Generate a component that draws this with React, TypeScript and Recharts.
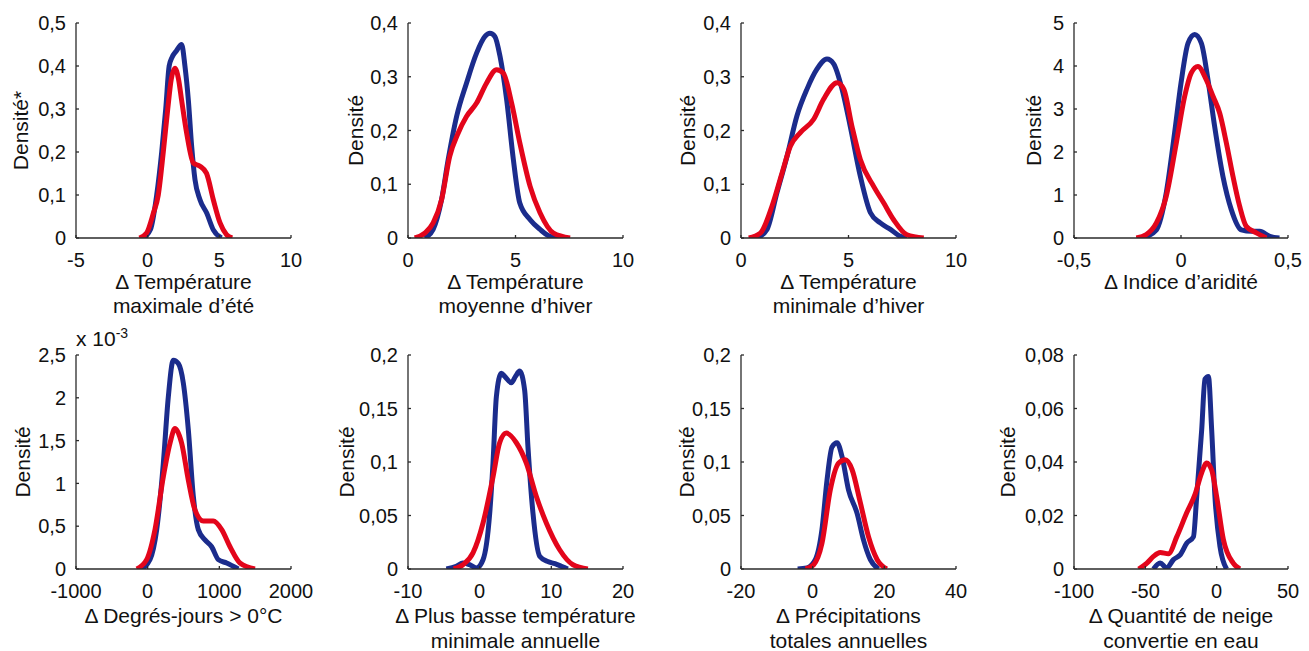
import React from 'react';
import { LineChart, Line, XAxis, YAxis, Label } from 'recharts';

const BLUE = '#1b2c8c';
const RED = '#e3051b';
const AXIS = '#2a2a2a';
const TXT = '#111111';
const FONT = '"Liberation Sans", Arial, Helvetica, sans-serif';

// ---------- Panel 1 : Δ Température maximale d'été ----------
const p1BlueX = [-0.3, 0.2, 0.63, 0.98, 1.26, 1.5, 1.7, 2.0, 2.37, 2.6, 2.84, 3.07, 3.3, 3.65, 4.12, 4.58, 5.15];
const p1BlueY = [0, 0.02, 0.1, 0.2, 0.3, 0.4, 0.42, 0.435, 0.45, 0.4, 0.32, 0.213, 0.136, 0.089, 0.058, 0.019, 0];
const p1RedX = [-0.58, -0.07, 0.4, 0.74, 1.09, 1.4, 1.65, 1.9, 2.15, 2.37, 2.72, 3.19, 3.65, 4.1, 4.58, 5.05, 5.5, 5.9];
const p1RedY = [0, 0.012, 0.058, 0.1, 0.2, 0.3, 0.37, 0.395, 0.37, 0.32, 0.244, 0.174, 0.167, 0.151, 0.089, 0.035, 0.008, 0];
const p1XTicks = [-5, 0, 5, 10];
const p1YTicks = [0, 0.1, 0.2, 0.3, 0.4, 0.5];

// ---------- Panel 2 : Δ Température moyenne d'hiver ----------
const p2BlueX = [0.78, 1.17, 1.56, 1.87, 2.26, 2.72, 3.19, 3.58, 3.81, 4.04, 4.28, 4.59, 4.9, 5.2, 5.68, 6.14, 6.6, 7.08];
const p2BlueY = [0, 0.016, 0.071, 0.146, 0.226, 0.288, 0.344, 0.375, 0.381, 0.375, 0.338, 0.257, 0.146, 0.065, 0.034, 0.016, 0.003, 0];
const p2RedX = [0.31, 0.78, 1.17, 1.56, 1.94, 2.33, 2.72, 3.19, 3.65, 4.12, 4.43, 4.82, 5.2, 5.68, 6.14, 6.77, 7.54];
const p2RedY = [0, 0.009, 0.028, 0.071, 0.152, 0.195, 0.226, 0.251, 0.288, 0.313, 0.307, 0.251, 0.177, 0.096, 0.047, 0.009, 0];
const p2XTicks = [0, 5, 10];
const p2YTicks = [0, 0.1, 0.2, 0.3, 0.4];

// ---------- Panel 3 : Δ Température minimale d'hiver ----------
const p3BlueX = [0.74, 1.21, 1.67, 2.14, 2.6, 3.07, 3.53, 4.0, 4.31, 4.7, 5.08, 5.55, 6.02, 6.48, 6.95, 7.41, 7.72];
const p3BlueY = [0, 0.016, 0.084, 0.152, 0.227, 0.277, 0.314, 0.333, 0.324, 0.277, 0.208, 0.115, 0.047, 0.028, 0.016, 0.003, 0];
const p3RedX = [0.36, 0.9, 1.44, 1.91, 2.3, 2.76, 3.38, 3.84, 4.47, 4.78, 5.16, 5.55, 6.17, 6.64, 7.1, 7.72, 8.5];
const p3RedY = [0, 0.009, 0.059, 0.121, 0.171, 0.196, 0.221, 0.258, 0.289, 0.277, 0.208, 0.146, 0.096, 0.065, 0.034, 0.006, 0];
const p3XTicks = [0, 5, 10];
const p3YTicks = [0, 0.1, 0.2, 0.3, 0.4];

// ---------- Panel 4 : Δ Indice d'aridité ----------
const p4BlueX = [-0.178, -0.115, -0.069, -0.03, 0.0, 0.033, 0.064, 0.095, 0.126, 0.157, 0.196, 0.235, 0.282, 0.329, 0.368, 0.415, 0.46];
const p4BlueY = [0, 0.19, 1.05, 2.44, 3.6, 4.53, 4.73, 4.53, 3.68, 2.6, 1.43, 0.66, 0.19, 0.155, 0.155, 0.04, 0];
const p4RedX = [-0.209, -0.162, -0.115, -0.069, -0.022, 0.017, 0.048, 0.079, 0.118, 0.15, 0.181, 0.212, 0.243, 0.274, 0.305, 0.352, 0.399];
const p4RedY = [0, 0.08, 0.35, 0.97, 2.21, 3.29, 3.84, 3.99, 3.68, 3.29, 2.9, 2.21, 1.43, 0.74, 0.27, 0.12, 0];
const p4XTicks = [-0.5, 0, 0.5];
const p4YTicks = [0, 1, 2, 3, 4, 5];

// ---------- Panel 5 : Δ Degrés-jours > 0°C (densité × 10^-3) ----------
const p5BlueX = [-84, 33, 126, 219, 288, 358, 428, 498, 567, 637, 707, 800, 893, 986, 1102, 1265];
const p5BlueY = [0, 0.11, 0.46, 1.24, 2.01, 2.44, 2.4, 2.17, 1.63, 0.85, 0.46, 0.34, 0.26, 0.11, 0.07, 0];
const p5RedX = [-153, -14, 102, 219, 312, 381, 474, 567, 660, 777, 916, 1033, 1149, 1288, 1498];
const p5RedY = [0, 0.11, 0.46, 1.08, 1.47, 1.64, 1.47, 1.04, 0.69, 0.56, 0.56, 0.46, 0.26, 0.07, 0];
const p5XTicks = [-1000, 0, 1000, 2000];
const p5YTicks = [0, 0.5, 1, 1.5, 2, 2.5];

// ---------- Panel 6 : Δ Plus basse température minimale annuelle ----------
const p6BlueX = [-4.65, -3.26, -2.33, -1.4, -0.47, 0.47, 1.4, 1.86, 2.33, 3.02, 3.5, 4.42, 5.0, 5.58, 6.28, 6.74, 7.44, 8.37, 9.5, 10.5, 11.4, 12.3];
const p6BlueY = [0, 0.0025, 0.0056, 0.004, 0.001, 0.0087, 0.052, 0.099, 0.161, 0.183, 0.18, 0.174, 0.18, 0.185, 0.167, 0.114, 0.052, 0.012, 0.007, 0.005, 0.0025, 0];
const p6RedX = [-3.63, -2.33, -0.93, 0.47, 1.86, 2.79, 3.72, 5.12, 6.51, 7.9, 9.3, 11.16, 13.02, 15.1];
const p6RedY = [0, 0.004, 0.015, 0.043, 0.086, 0.118, 0.127, 0.118, 0.099, 0.068, 0.043, 0.018, 0.004, 0];
const p6XTicks = [-10, 0, 10, 20];
const p6YTicks = [0, 0.05, 0.1, 0.15, 0.2];

// ---------- Panel 7 : Δ Précipitations totales annuelles ----------
const p7BlueX = [-4.2, -1.6, 0.74, 2.6, 4.0, 5.4, 6.8, 8.2, 10.0, 12.4, 14.2, 16.1, 18.4];
const p7BlueY = [0, 0.001, 0.0087, 0.037, 0.083, 0.114, 0.118, 0.105, 0.074, 0.052, 0.027, 0.0087, 0];
const p7RedX = [-2.0, 0.28, 2.6, 4.93, 7.26, 9.1, 10.98, 13.3, 15.6, 18.0, 20.7];
const p7RedY = [0, 0.004, 0.024, 0.074, 0.099, 0.102, 0.093, 0.062, 0.03, 0.0087, 0];
const p7XTicks = [-20, 0, 20, 40];
const p7YTicks = [0, 0.05, 0.1, 0.15, 0.2];

// ---------- Panel 8 : Δ Quantité de neige convertie en eau ----------
const p8BlueX = [-44.3, -39.6, -35, -30.3, -25.6, -20.9, -16.3, -14, -10.5, -8.2, -5.8, -3.5, -1.2, 2.3, 7.0];
const p8BlueY = [0, 0.0022, 0.0004, 0.0035, 0.0053, 0.0097, 0.012, 0.027, 0.052, 0.071, 0.072, 0.052, 0.027, 0.0085, 0];
const p8RedX = [-54.7, -48.9, -44.3, -39.6, -33.8, -28, -21, -15.1, -10.5, -7, -3.5, 0, 4.7, 11.6, 16.3];
const p8RedY = [0, 0.0022, 0.0047, 0.0062, 0.0057, 0.012, 0.021, 0.028, 0.036, 0.0396, 0.037, 0.027, 0.011, 0.0022, 0];
const p8XTicks = [-100, -50, 0, 50];
const p8YTicks = [0, 0.02, 0.04, 0.06, 0.08];

// ---------- Labels ----------
const xLabels = [
  ['Δ Température', 'maximale d’été'],
  ['Δ Température', 'moyenne d’hiver'],
  ['Δ Température', 'minimale d’hiver'],
  ['Δ Indice d’aridité', ''],
  ['Δ Degrés-jours > 0°C', ''],
  ['Δ Plus basse température', 'minimale annuelle'],
  ['Δ Précipitations', 'totales annuelles'],
  ['Δ Quantité de neige', 'convertie en eau'],
];
const yLabels = ['Densité*', 'Densité', 'Densité', 'Densité', 'Densité', 'Densité', 'Densité', 'Densité'];

const toPts = (xs: number[], ys: number[]) => xs.map((x, i) => ({ x, y: ys[i] }));
const fmt = (v: number) => String(v).replace('.', ',');

// layout (plot boxes in page pixels)
const boxes = [
  [76, 23, 291, 238],
  [408, 23, 623, 238],
  [741, 23, 956, 238],
  [1074, 23, 1288, 238],
  [76, 355, 291, 569],
  [408, 355, 623, 569],
  [741, 355, 956, 569],
  [1074, 355, 1288, 569],
];
const yLabDist = [56, 53, 54, 41, 54, 62, 55, 67];

const series = [
  [p1BlueX, p1BlueY, p1RedX, p1RedY, p1XTicks, p1YTicks],
  [p2BlueX, p2BlueY, p2RedX, p2RedY, p2XTicks, p2YTicks],
  [p3BlueX, p3BlueY, p3RedX, p3RedY, p3XTicks, p3YTicks],
  [p4BlueX, p4BlueY, p4RedX, p4RedY, p4XTicks, p4YTicks],
  [p5BlueX, p5BlueY, p5RedX, p5RedY, p5XTicks, p5YTicks],
  [p6BlueX, p6BlueY, p6RedX, p6RedY, p6XTicks, p6YTicks],
  [p7BlueX, p7BlueY, p7RedX, p7RedY, p7XTicks, p7YTicks],
  [p8BlueX, p8BlueY, p8RedX, p8RedY, p8XTicks, p8YTicks],
];

const YW = 90;
const MT = 30;
const MR = 26;
const XH = 95;

function Panel({ idx }: { idx: number }) {
  const [bx, by, rx, ry, xTicks, yTicks] = series[idx];
  const [x0, y0, x1, y1] = boxes[idx];
  const w = x1 - x0 + YW + MR;
  const h = y1 - y0 + MT + XH;
  const bottomRow = idx >= 4;
  const l1 = bottomRow ? 54 : 50.5;
  const l2 = bottomRow ? 79 : 75;
  const [line1, line2] = xLabels[idx];
  const dist = yLabDist[idx];

  const xLabel = (props: any) => {
    const vb = props.viewBox || {};
    const cx = (vb.x ?? YW) + (vb.width ?? x1 - x0) / 2;
    const ty = vb.y ?? MT + (y1 - y0);
    return (
      <g>
        <text x={cx} y={ty + l1} textAnchor="middle" fontSize={21} fontFamily={FONT} fill={TXT}>
          {line1}
        </text>
        {line2 ? (
          <text x={cx} y={ty + l2} textAnchor="middle" fontSize={21} fontFamily={FONT} fill={TXT}>
            {line2}
          </text>
        ) : null}
      </g>
    );
  };

  const yLabel = (props: any) => {
    const vb = props.viewBox || {};
    const ax = (vb.x ?? 0) + (vb.width ?? YW);
    const cx = ax - dist;
    const cy = (vb.y ?? MT) + (vb.height ?? y1 - y0) / 2;
    return (
      <text
        x={cx}
        y={cy}
        transform={`rotate(-90, ${cx}, ${cy})`}
        textAnchor="middle"
        dominantBaseline="central"
        fontSize={21}
        fontFamily={FONT}
        fill={TXT}
      >
        {yLabels[idx]}
      </text>
    );
  };

  const multLabel = (props: any) => {
    const vb = props.viewBox || {};
    const ax = (vb.x ?? 0) + (vb.width ?? YW);
    const top = vb.y ?? MT;
    return (
      <text x={ax} y={top - 9} fontSize={21} fontFamily={FONT} fill={TXT}>
        x 10
        <tspan fontSize={14} dy={-8}>
          -3
        </tspan>
      </text>
    );
  };

  return (
    <div style={{ position: 'absolute', left: x0 - YW, top: y0 - MT, width: w, height: h }}>
      <LineChart width={w} height={h} margin={{ top: MT, right: MR, bottom: 0, left: 0 }}>
        <XAxis
          type="number"
          dataKey="x"
          domain={[xTicks[0], xTicks[xTicks.length - 1]]}
          ticks={xTicks}
          interval={0}
          tickFormatter={fmt}
          tickSize={-3}
          tickMargin={18}
          height={XH}
          axisLine={{ stroke: AXIS, strokeWidth: 1.3 }}
          tickLine={{ stroke: AXIS, strokeWidth: 1.3 }}
          tick={{ fill: TXT, fontSize: 20, fontFamily: FONT }}
          label={{ content: xLabel }}
          allowDataOverflow
        />
        <YAxis
          type="number"
          domain={[0, yTicks[yTicks.length - 1]]}
          ticks={yTicks}
          interval={0}
          tickFormatter={fmt}
          tickSize={-3}
          tickMargin={13}
          width={YW}
          axisLine={{ stroke: AXIS, strokeWidth: 1.3 }}
          tickLine={{ stroke: AXIS, strokeWidth: 1.3 }}
          tick={{ fill: TXT, fontSize: 20, fontFamily: FONT }}
          label={{ content: yLabel }}
          allowDataOverflow
        >
          {idx === 4 ? <Label content={multLabel} /> : null}
        </YAxis>
        <Line
          data={toPts(bx, by)}
          dataKey="y"
          type="monotone"
          stroke={BLUE}
          strokeWidth={5}
          dot={false}
          activeDot={false}
          isAnimationActive={false}
        />
        <Line
          data={toPts(rx, ry)}
          dataKey="y"
          type="monotone"
          stroke={RED}
          strokeWidth={5}
          dot={false}
          activeDot={false}
          isAnimationActive={false}
        />
      </LineChart>
    </div>
  );
}

export default function App() {
  return (
    <div
      style={{
        position: 'absolute',
        left: 0,
        top: 0,
        width: 1309,
        height: 651,
        overflow: 'hidden',
        background: '#ffffff',
      }}
    >
      {boxes.map((_, i) => (
        <Panel key={i} idx={i} />
      ))}
    </div>
  );
}
